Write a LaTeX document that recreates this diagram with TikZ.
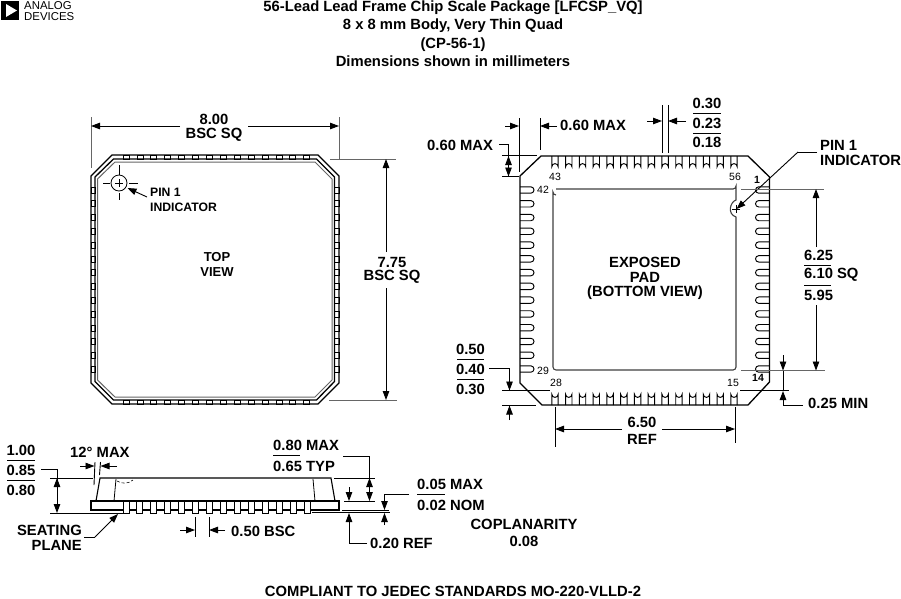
\documentclass[tikz,border=0pt]{standalone}
\usepackage{fontspec}
\setmainfont{Liberation Sans}
\usetikzlibrary{arrows.meta}
\tikzset{
  lbl/.style={font=\fontsize{14.8}{16}\bfseries\selectfont,inner sep=0pt,text=black},
  lbll/.style={lbl,anchor=west},
  lblr/.style={lbl,anchor=east},
  smalllbl/.style={font=\fontsize{12.2}{14}\bfseries\selectfont,inner sep=0pt,text=black},
  pinnum/.style={font=\fontsize{10.5}{11}\selectfont,inner sep=0pt},
  ln/.style={line width=0.9pt,black},
  gln/.style={line width=1pt,black!60},
  body/.style={line width=1.3pt,black},
  arr/.style={line width=0.9pt,-{Triangle[length=9pt,width=6.5pt]}},
}
\begin{document}
\begin{tikzpicture}[x=1pt,y=-1pt]
\useasboundingbox (0,0) rectangle (901,598);
\fill[white] (0,0) rectangle (901,598);
% logo
\fill[black] (1,1) rectangle (19,20);
\fill[white] (6,4) -- (17,10.5) -- (6,17) -- cycle;
\node[inner sep=0pt,anchor=west,font=\fontsize{11.4}{12}\selectfont] (logoa) at (24,5.5) {ANALOG};
\node[inner sep=0pt,anchor=west,font=\fontsize{11.4}{12}\selectfont] (logob) at (24,16.5) {DEVICES};
% title
\node[lbl] (t1) at (453,8) {56-Lead Lead Frame Chip Scale Package [LFCSP\_VQ]};
\node[lbl] (t2) at (453,26) {8 x 8 mm Body, Very Thin Quad};
\node[lbl] (t3) at (453,45) {(CP-56-1)};
\node[lbl] (t4) at (453,61.5) {Dimensions shown in millimeters};
%% TOP VIEW
\draw[body] (112,155) -- (318,155) -- (339,176) -- (339,383) -- (318,404) -- (112,404) -- (91,383) -- (91,176) -- cycle;
\draw[body] (113.5,159) -- (316.5,159) -- (334.5,177) -- (334.5,381.5) -- (316.5,400) -- (113.5,400) -- (95,381.5) -- (95,177) -- cycle;
\draw[gln] (115,162) -- (315,162) -- (332,179) -- (332,380) -- (315,397) -- (115,397) -- (97.5,380) -- (97.5,179) -- cycle;
\foreach \i in {0,...,13}{
  \pgfmathsetmacro{\c}{126+13.9*\i}
  \draw[line width=0.7pt] (\c-3,155) rectangle (\c+3,159);
  \draw[line width=0.7pt] (\c-3,400) rectangle (\c+3,404);
  \pgfmathsetmacro{\d}{190+13.8*\i}
  \draw[line width=0.7pt] (91,\d-3) rectangle (95,\d+3);
  \draw[line width=0.7pt] (334.5,\d-3) rectangle (339,\d+3);
}
% pin 1
\coordinate (pc) at (119,183);
\draw[line width=0.8pt] (pc) circle (8);
\draw[line width=0.7pt] (115,183) -- (123,183) (119,179) -- (119,187);
\draw[line width=0.7pt] (103,183) -- (110,183) (129,183) -- (138,183) (119,165) -- (119,175) (119,193) -- (119,200);
\node[smalllbl,anchor=west] (pin1a) at (150,192) {PIN 1};
\node[smalllbl,anchor=west] (pin1b) at (150,207) {INDICATOR};
\draw[arr] (147,197) -- (127.5,188);
\node[lbl,font=\fontsize{13}{15}\bfseries\selectfont] (tv1) at (217,257) {TOP};
\node[lbl,font=\fontsize{13}{15}\bfseries\selectfont] (tv2) at (217,272) {VIEW};
% 8.00
\draw[gln] (91,117) -- (91,168);
\draw[gln] (339,117) -- (339,160);
\node[lbl] (d800) at (214,119) {8.00};
\node[lbl] (d800b) at (214,135) {BSC SQ};
\draw[arr] (180,126) -- (91,126);
\draw[arr] (248,126) -- (339,126);
% 7.75
\draw[gln] (330,159) -- (396,159);
\draw[gln] (329,400) -- (397,400);
\node[lbl] (d775) at (392,262) {7.75};
\node[lbl] (d775b) at (392,277) {BSC SQ};
\draw[arr] (386,252) -- (386,159);
\draw[arr] (386,288) -- (386,400);
%% BOTTOM VIEW
\draw[body] (541,156) -- (748,156) -- (769.5,177) -- (769.5,382) -- (748,405) -- (542,405) -- (520,383) -- (520,176) -- cycle;
\draw[line width=1.1pt,black!75] (556,189) -- (733,189) arc (90:0:3) -- (736,200)
   .. controls (730,202) and (727,214) .. (736,217) -- (736,367) arc (0:90:3) -- (556,370) arc (90:180:3) -- (553,192) arc (180:90:3);
\draw[line width=0.7pt] (732,209) -- (740,209) (736,205) -- (736,213);
\foreach \i in {0,...,13}{
  \pgfmathsetmacro{\c}{555+13.77*\i}
  \draw[line width=0.95pt] (\c-3.2,156) -- (\c-3.2,166.8) arc (180:360:3.2) -- (\c+3.2,156);
  \draw[line width=0.95pt] (\c-3.2,405) -- (\c-3.2,394.2) arc (180:0:3.2) -- (\c+3.2,405);
  \pgfmathsetmacro{\d}{190+13.77*\i}
  \draw[line width=0.95pt] (520,\d-3.2) -- (530.8,\d-3.2) arc (-90:90:3.2) -- (520,\d+3.2);
  \draw[line width=0.95pt] (769.5,\d-3.2) -- (758.7,\d-3.2) arc (270:90:3.2) -- (769.5,\d+3.2);
}
\node[pinnum] (p43) at (555,177) {43};
\node[pinnum] (p42) at (543,190) {42};
\node[pinnum] (p56) at (735,177) {56};
\node[pinnum,font=\fontsize{10.5}{11}\bfseries\selectfont] (p1) at (757,180) {1};
\node[pinnum,font=\fontsize{10.5}{11}\bfseries\selectfont] (p14) at (758,378) {14};
\node[pinnum] (p15) at (733,383) {15};
\node[pinnum] (p28) at (556,383) {28};
\node[pinnum] (p29) at (543,371) {29};
\node[lbl] (ep1) at (645,262) {EXPOSED};
\node[lbl] (ep2) at (645,277) {PAD};
\node[lbl] (ep3) at (645,293) {(BOTTOM VIEW)};
% 0.60 MAX top
\draw[ln] (519,118) -- (519,172);
\draw[ln] (540,118) -- (540,150);
\draw[arr] (505,126) -- (519,126);
\draw[arr] (557,126) -- (540,126);
\node[lbll] (d60t) at (560,125) {0.60 MAX};
% 0.60 MAX left
\node[lbll] (d60l) at (427,145) {0.60 MAX};
\draw[ln] (502,155.5) -- (537,155.5);
\draw[ln] (502,176.5) -- (519,176.5);
\draw[ln] (499,144.5) -- (508.5,144.5) -- (508.5,166);
\draw[arr] (508.5,166) -- (508.5,156);
\draw[arr] (508.5,166) -- (508.5,176.5);
% 0.30 .23 .18
\draw[ln] (662,105) -- (662,153);
\draw[ln] (668,105) -- (668,153);
\draw[arr] (647,121) -- (662,121);
\draw[arr] (686,121) -- (668,121);
\node[lbl] (a1) at (707,103) {0.30};
\node[lbl] (a2) at (707,123) {0.23};
\node[lbl] (a3) at (707,142) {0.18};
\draw[ln] (693,113) -- (721,113) (693,133) -- (721,133);
% PIN 1 right
\node[lbll] (pr1) at (820,145) {PIN 1};
\node[lbll] (pr2) at (820,160) {INDICATOR};
\draw[line width=0.9pt] (817,152) -- (798,152);
\draw[arr] (798,152) -- (736.5,209);
% 6.25
\draw[gln] (741,189) -- (824,189);
\draw[gln] (741,370.5) -- (825,370.5);
\draw[arr] (816,247) -- (816,189);
\draw[arr] (816,305) -- (816,370.5);
\node[lbll] (b1) at (804,255) {6.25};
\node[lbll] (b2) at (804,275) {6.10 SQ};
\node[lbll] (b3) at (804,295) {5.95};
\draw[ln] (804,265) -- (831,265) (804,285) -- (831,285);
% 0.25 MIN
\draw[ln] (740,390.5) -- (789,390.5);
\draw[arr] (783,355) -- (783,370.5);
\draw[ln] (783,370.5) -- (783,390.5);
\draw[ln] (803,405) -- (783,405);
\draw[arr] (783,405) -- (783,391);
\node[lbll] (d25) at (808,403) {0.25 MIN};
% 6.50 REF
\draw[ln] (555,407) -- (555,447);
\draw[ln] (735,407) -- (735,443);
\draw[arr] (622,429) -- (555,429);
\draw[arr] (662,429) -- (735,429);
\node[lbl] (d650) at (642,422) {6.50};
\node[lbl] (d650b) at (642,439) {REF};
% 0.50 0.40 0.30
\node[lbl] (c1) at (470.5,349) {0.50};
\node[lbl] (c2) at (470.5,369) {0.40};
\node[lbl] (c3) at (470.5,389) {0.30};
\draw[ln] (457,359.5) -- (484,359.5) (457,379.5) -- (484,379.5);
\draw[ln] (489,368.5) -- (509.5,368.5) -- (509.5,380);
\draw[arr] (509.5,378) -- (509.5,390.5);
\draw[ln] (502,390.5) -- (550,390.5);
\draw[ln] (502,405.5) -- (536,405.5);
\draw[arr] (509.5,420) -- (509.5,405.5);
%% SIDE VIEW
\draw[line width=1.1pt] (96,501) -- (100,478) -- (331,478) -- (335,501);
\draw[line width=0.8pt] (116,479) -- (114,501);
\draw[line width=0.8pt] (313,479) -- (315,501);
\draw[line width=0.6pt,densely dashed] (117,481) .. controls (122,484) and (128,484) .. (133,480);
\draw[body] (91,501) -- (339,501) -- (339,510) -- (91,510) -- cycle;
\foreach \i in {0,...,13}{
  \pgfmathsetmacro{\c}{126+13.92*\i}
  \draw[line width=0.9pt,fill=white] (\c-3,501) rectangle (\c+3,513);
}
\draw[ln] (50,513) -- (123,513);
\draw[ln] (312,512.7) -- (390,512.7);
\draw[ln] (342,510) -- (389,510);
% 1.00 .85 .80
\node[lbl] (s1) at (21,450) {1.00};
\node[lbl] (s2) at (21,470) {0.85};
\node[lbl] (s3) at (21,490) {0.80};
\draw[ln] (7,460) -- (35,460) (7,480) -- (35,480);
\draw[ln] (41,469) -- (57,469) -- (57,495);
\draw[ln] (50,478) -- (93,478);
\draw[arr] (57,495) -- (57,478);
\draw[arr] (57,495) -- (57,513);
% 12 deg
\node[lbll] (d12) at (70,452) {12° MAX};
\draw[ln] (95,462) -- (94,485);
\draw[ln] (100.5,462) -- (99.5,475);
\draw[arr] (80,466) -- (94.5,466);
\draw[arr] (117,466) -- (100.5,466);
% seating plane
\node[lblr] (sp1) at (82,530) {SEATING};
\node[lblr] (sp2) at (82,545) {PLANE};
\draw[line width=0.9pt] (84,537) -- (95,537);
\draw[arr] (95,537) -- (118,514);
% 0.50 BSC
\draw[ln] (195,517) -- (195,537);
\draw[ln] (209,517) -- (209,537);
\draw[arr] (180,530) -- (195,530);
\draw[arr] (225,530) -- (209,530);
\node[lbll] (d50) at (231,531) {0.50 BSC};
% 0.80 MAX
\node[lbll] (m1) at (273,445) {0.80 MAX};
\node[lbll] (m2) at (273,466) {0.65 TYP};
\draw[ln] (273,455.5) -- (300,455.5);
\draw[ln] (343,456) -- (369.5,456) -- (369.5,490);
\draw[ln] (334,478) -- (375,478);
\draw[ln] (344,501) -- (375,501);
\draw[arr] (369.5,490) -- (369.5,478);
\draw[arr] (369.5,490) -- (369.5,501);
% 0.20 REF
\draw[arr] (349,487) -- (349,501);
\draw[ln] (367,543) -- (349,543) -- (349,530);
\draw[arr] (349,530) -- (349,513);
\node[lbll] (d20) at (370,543) {0.20 REF};
% 0.05 MAX
\node[lbll] (n1) at (417,484) {0.05 MAX};
\node[lbll] (n2) at (417,505) {0.02 NOM};
\draw[ln] (417,494.5) -- (445,494.5);
\draw[ln] (409,494.5) -- (384.5,494.5) -- (384.5,500);
\draw[arr] (384.5,498) -- (384.5,510);
\draw[arr] (384.5,525) -- (384.5,513);
% bottom text
\node[lbl] (co1) at (524,524) {COPLANARITY};
\node[lbl] (co2) at (524,541) {0.08};
\node[lbl] (cm) at (453,591.5) {COMPLIANT TO JEDEC STANDARDS MO-220-VLLD-2};
\end{tikzpicture}
\end{document}
